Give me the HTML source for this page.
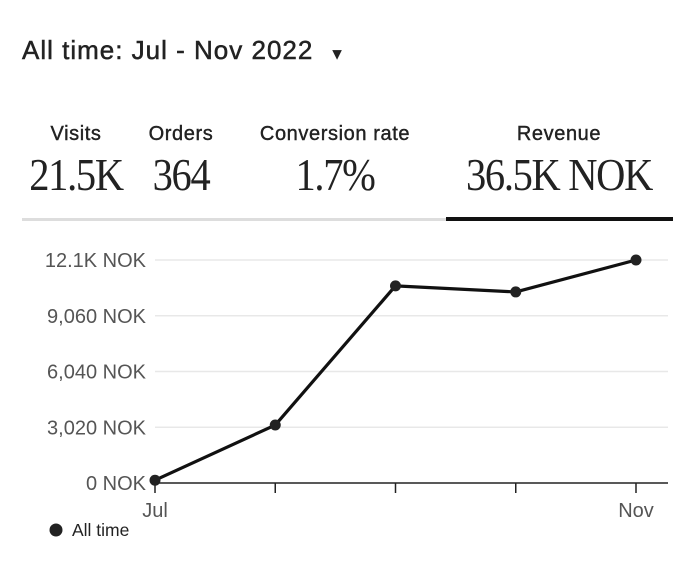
<!DOCTYPE html>
<html><head><meta charset="utf-8"><style>
body{margin:0;width:700px;height:563px;background:#fff;font-family:"Liberation Sans",sans-serif;color:#222;position:relative;overflow:hidden}
.a{position:absolute;white-space:nowrap}
.lbl{font-size:20px;letter-spacing:0.6px;color:#222;top:123px;transform:translateX(-50%);-webkit-text-stroke:0.4px #222}
.val{font-family:"Liberation Serif",serif;font-size:46px;line-height:1;color:#222;top:152px;transform:translateX(-50%) scaleX(0.88);letter-spacing:-1.5px}
</style></head><body>
<div class="a" style="left:22px;top:35px;font-size:26px;letter-spacing:1px;-webkit-text-stroke:0.5px #222">All time: Jul - Nov 2022 <span style="font-size:15px;margin-left:8px">▼</span></div>
<div class="a lbl" style="left:76px">Visits</div>
<div class="a lbl" style="left:181px">Orders</div>
<div class="a lbl" style="left:335px">Conversion rate</div>
<div class="a lbl" style="left:559px">Revenue</div>
<div class="a val" style="left:76px">21.5K</div>
<div class="a val" style="left:181px">364</div>
<div class="a val" style="left:335px">1.7%</div>
<div class="a val" style="left:559px">36.5K NOK</div>
<div class="a" style="left:22px;top:218px;width:424px;height:3px;background:#ddd"></div>
<div class="a" style="left:446px;top:217px;width:227px;height:4px;background:#111"></div>
<svg id="chart" class="a" style="left:0;top:0" width="700" height="563"></svg>
<script>
const categories=["Jul","Aug","Sep","Oct","Nov"];
const revenue=[150,3140,10680,10350,12080];
const yTicks=[0,3020,6040,9060,12080];
const yTickLabels=["0 NOK","3,020 NOK","6,040 NOK","9,060 NOK","12.1K NOK"];
const xLabels=["Jul","","","","Nov"];
const svg=document.getElementById('chart');const NS="http://www.w3.org/2000/svg";
const x=i=>155+i*120.25;const y=v=>483-v*(223/12080);
function mk(t,a,p){const e=document.createElementNS(NS,t);for(const k in a)e.setAttribute(k,a[k]);(p||svg).appendChild(e);return e;}
yTicks.forEach((v,i)=>{
 if(i>0){const g=mk('line',{x1:155,x2:668,y1:y(v),y2:y(v),stroke:'#e8e8e8','stroke-width':1.5});
 
 }
 const t=mk('text',{x:146,y:y(v)+7,'text-anchor':'end','font-size':20,fill:'#555','font-family':'Liberation Sans'});
 
 
 t.textContent=yTickLabels[i];});
const ax=mk('line',{x1:155,x2:668,y1:483,y2:483,stroke:'#222','stroke-width':1.5});


categories.forEach((c,i)=>{
 const tk=mk('line',{x1:x(i),x2:x(i),y1:483,y2:493,stroke:'#222','stroke-width':1.5});
 
 
 if(xLabels[i]){const t=mk('text',{x:x(i),y:517,'text-anchor':'middle','font-size':20,fill:'#555','font-family':'Liberation Sans'});
 
 
 t.textContent=xLabels[i];}});
const ln=mk('polyline',{points:revenue.map((v,i)=>x(i)+','+y(v)).join(' '),fill:'none',stroke:'#111','stroke-width':3.2,'stroke-linejoin':'round'});


revenue.forEach((v,i)=>{const c=mk('circle',{cx:x(i),cy:y(v),r:5.5,fill:'#222'});
 
 });
const lc=mk('circle',{cx:56,cy:530,r:6.5,fill:'#222'});


const lt=mk('text',{x:72,y:536,'font-size':17.5,fill:'#222','font-family':'Liberation Sans'});


lt.textContent="All time";
</script>
</body></html>
